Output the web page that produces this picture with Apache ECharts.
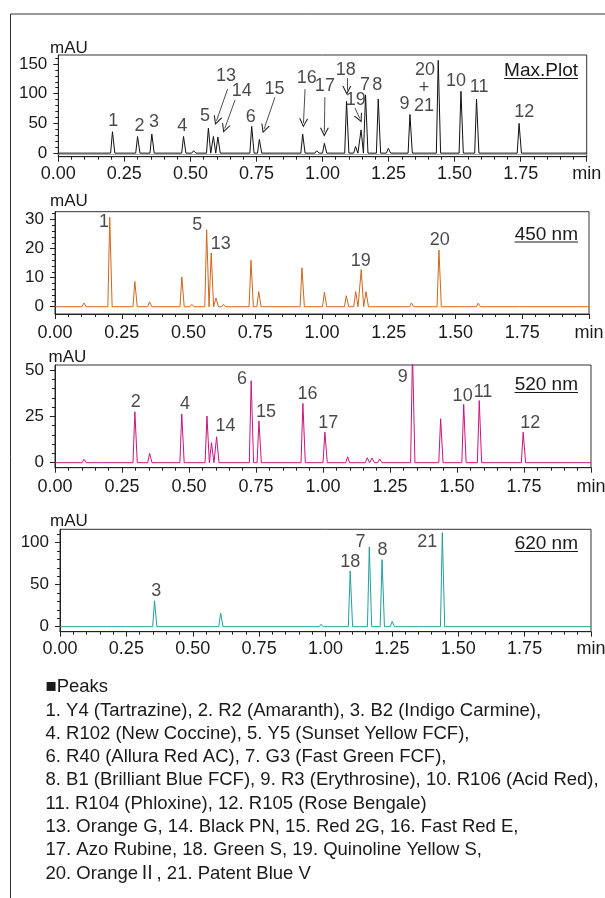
<!DOCTYPE html>
<html><head><meta charset="utf-8">
<script src="https://cdn.jsdelivr.net/npm/echarts@6/dist/echarts.min.js"></script>
<style>html,body{margin:0;padding:0;background:#fff}#c{width:605px;height:898px}</style>
</head><body><div id="c"></div>
<script>
// ---------- data ----------
const xTickLabels = ['0.00','0.25','0.50','0.75','1.00','1.25','1.50','1.75','min'];

// Max.Plot trace: peak apex times (min) and heights (mAU)
const maxTimes   = [0.112,0.150,0.205,0.300,0.354,0.474,0.512,0.568,0.587,0.604,0.630,0.732,0.761,0.925,0.978,1.007,1.091,1.125,1.146,1.163,1.211,1.249,1.295,1.331,1.438,1.524,1.583,1.744];
const maxHeights = [2,1,36,28,32,28,4,42,28,27,2,45,23,32,4,16.5,87,11,39,98,91,8,2,65,156,104,91,50];
const maxLabelText  = ['1','2','3','4','5','13','14','6','15','16','17','18','19','7','8','9','20','+','21','10','11','12'];
const maxLabelTimes = [0.208,0.307,0.362,0.469,0.555,0.635,0.694,0.728,0.818,0.940,1.009,1.088,1.126,1.161,1.207,1.310,1.388,1.384,1.384,1.505,1.593,1.764];
const maxLabelVals  = [54.8,46.4,52,46.4,63.2,129,105,60.4,108,127,112,140,89.7,113.8,113.8,83,140,110,80,122,111,68.8];
// arrows (from label to peak), [time, mAU]
const maxArrowFrom = [[0.641,108],[0.669,89.4],[0.820,94.1],[0.934,107.6],[1.009,94],[1.092,126],[1.123,75.9]];
const maxArrowTo   = [[0.599,54.5],[0.630,41.4],[0.779,40.6],[0.928,50.7],[1.007,35.2],[1.092,105.4],[1.141,58.4]];

// 450 nm
const t450 = [0.108,0.160,0.205,0.299,0.354,0.475,0.512,0.568,0.585,0.603,0.631,0.734,0.763,0.925,1.009,1.091,1.126,1.147,1.165,1.335,1.438,1.525,1.585,1.747];
const h450 = [1.3,0.5,30.8,8.7,1.7,10.2,0.8,26.5,18.5,3,0.8,16,5.2,13.4,5,3.8,5.2,12.8,5.2,1.3,19.5,0.6,1.2,0.5];
const lab450Text  = ['1','5','13','19','20'];
const lab450Times = [0.184,0.533,0.621,1.145,1.441];
const lab450Vals  = [29,28,21.7,15.7,23];

// 520 nm
const t520 = [0.108,0.161,0.298,0.353,0.473,0.567,0.584,0.603,0.732,0.761,0.925,1.007,1.092,1.106,1.165,1.183,1.211,1.334,1.439,1.525,1.583,1.747];
const h520 = [1.8,0.5,27.5,5,26.3,25.2,10.8,14,44.2,22.5,32,16.5,3.2,1,2.7,2.5,2,60,23.7,31.5,33.5,16.5];
const lab520Text  = ['2','4','14','6','15','16','17','9','10','11','12'];
const lab520Times = [0.301,0.485,0.636,0.698,0.787,0.942,1.020,1.298,1.521,1.597,1.773];
const lab520Vals  = [32.9,31.7,19.8,45,27.5,37,21.6,46.4,36,38.3,21.2];

// 620 nm
const t620 = [0.112,0.167,0.254,0.356,0.605,0.983,1.093,1.165,1.213,1.251,1.296,1.360,1.440];
const h620 = [2,0.8,0.8,30.8,16.2,2.8,66.4,94.9,79.8,6.3,1.6,1.2,112];
const lab620Text  = ['3','18','7','8','21'];
const lab620Times = [0.363,1.093,1.132,1.215,1.383];
const lab620Vals  = [42.7,77,100.8,91,100.8];

// y-axis tick labels
const yTicks1 = [0,50,100,150];
const yTicks2 = [0,10,20,30];
const yTicks3 = [0,25,50];
const yTicks4 = [0,50,100];

const peakListLines = [
  '■Peaks',
  '1. Y4 (Tartrazine), 2. R2 (Amaranth), 3. B2 (Indigo Carmine),',
  '4. R102 (New Coccine), 5. Y5 (Sunset Yellow FCF),',
  '6. R40 (Allura Red AC), 7. G3 (Fast Green FCF),',
  '8. B1 (Brilliant Blue FCF), 9. R3 (Erythrosine), 10. R106 (Acid Red),',
  '11. R104 (Phloxine), 12. R105 (Rose Bengale)',
  '13. Orange G, 14. Black PN, 15. Red 2G, 16. Fast Red E,',
  '17. Azo Rubine, 18. Green S, 19. Quinoline Yellow S,',
  '20. OrangeⅡ, 21. Patent Blue V'
];

// ---------- building ----------
const FONT = '"Liberation Sans", Arial, Helvetica, sans-serif';
const TXT = '#1a1a1a';

function trace(times, heights) {
  const pts = [[0, 0]];
  times.forEach((t, i) => { pts.push([t - 0.007, 0], [t, heights[i]], [t + 0.009, 0]); });
  pts.push([2, 0]);
  pts.sort((a, b) => a[0] - b[0]);
  return pts;
}
function labels(text, times, vals) {
  return text.map((s, i) => [times[i], vals[i], s]);
}
function range(a, b, s) { const r = []; for (let v = a; v <= b + 1e-9; v += s) r.push(+v.toFixed(6)); return r; }

const panels = [
  {grid:{left:58.3, top:55, width:528.4, height:101.7}, min:-6, max:165, ticks:yTicks1, minor:range(0,160,10), xm:8,
   color:'#111', data:trace(maxTimes,maxHeights), lab:labels(maxLabelText,maxLabelTimes,maxLabelVals)},
  {grid:{left:55, top:211.7, width:534, height:102.3}, min:-2.5, max:32.7, ticks:yTicks2, minor:range(0,32,2), xm:10,
   color:'#d0671c', data:trace(t450,h450), lab:labels(lab450Text,lab450Times,lab450Vals)},
  {grid:{left:55, top:365, width:536, height:102.7}, min:-2.7, max:52.7, ticks:yTicks3, minor:range(0,50,5), xm:10,
   color:'#c8157f', data:trace(t520,h520), lab:labels(lab520Text,lab520Times,lab520Vals)},
  {grid:{left:60, top:529.3, width:531, height:102.4}, min:-6, max:116, ticks:yTicks4, minor:range(0,110,10), xm:8,
   color:'#22a09c', data:trace(t620,h620), lab:labels(lab620Text,lab620Times,lab620Vals)}
];

const grids = [], xAxes = [], yAxes = [], series = [];
const axisCol = '#222';
panels.forEach((p, i) => {
  grids.push(Object.assign({show:true, borderColor:'#333', borderWidth:1, backgroundColor:'transparent', containLabel:false, outerBoundsMode:'none'}, p.grid));
  xAxes.push({type:'value', gridIndex:i, min:0, max:2, interval:0.25,
    axisLine:{show:true, onZero:false, lineStyle:{color:axisCol, width:1}},
    axisTick:{show:true, length:5, lineStyle:{color:axisCol}},
    minorTick:{show:true, splitNumber:5, length:3, lineStyle:{color:axisCol}},
    splitLine:{show:false}, minorSplitLine:{show:false},
    axisLabel:{show:true, showMinLabel:true, showMaxLabel:true, margin:p.xm, fontSize:18, color:TXT, fontFamily:FONT,
      formatter:(v) => xTickLabels[Math.round(v / 0.25)]}});
  yAxes.push({type:'value', gridIndex:i, min:p.min, max:p.max, position:'left',
    axisLine:{show:true, onZero:false, lineStyle:{color:axisCol, width:1}},
    axisTick:{show:true, length:5, customValues:p.ticks, lineStyle:{color:axisCol}},
    axisLabel:{show:true, customValues:p.ticks, margin:11, fontSize:17, color:TXT, fontFamily:FONT},
    splitLine:{show:false}});
  yAxes.push({type:'value', gridIndex:i, min:p.min, max:p.max, position:'left',
    axisLine:{show:false},
    axisTick:{show:true, length:3, customValues:p.minor, lineStyle:{color:axisCol}},
    axisLabel:{show:false}, splitLine:{show:false}});
  const line = {type:'line', xAxisIndex:i, yAxisIndex:2*i, data:p.data, showSymbol:false, symbol:'none',
    lineStyle:{color:p.color, width:1}, silent:true, animation:false, clip:true};
  if (i === 0) {
    line.markLine = {silent:true, symbol:'none', animation:false, label:{show:false},
      lineStyle:{color:'#aaa', width:1, type:'solid'}, data:[{yAxis:-2.5}]};
  }
  series.push(line);
  const lab = {type:'scatter', xAxisIndex:i, yAxisIndex:2*i, data:p.lab, symbolSize:0, silent:true, animation:false,
    label:{show:true, position:'inside', formatter:(d) => d.value[2], fontSize:18, color:TXT, fontFamily:FONT}};
  if (i === 0) {
    lab.markLine = {silent:true, animation:false, symbol:['none','path://M5,0 L10,10 L8.7,10 L5,2.6 L1.3,10 L0,10 Z'],
      symbolSize:9, label:{show:false}, lineStyle:{color:'#222', width:0.8, type:'solid'},
      itemStyle:{color:'#222'},
      data: maxArrowFrom.map((f, k) => [{coord:f}, {coord:maxArrowTo[k]}])};
  }
  series.push(lab);
});

const titles = [
  {text:'Max.Plot', y:70.7, ul:78.5},
  {text:'450 nm', y:234.5, ul:242},
  {text:'520 nm', y:385, ul:392.5},
  {text:'620 nm', y:544, ul:551.5}
];
const mauPos = [[69,48],[69,201],[67.5,357],[69,521]];
const graphic = [
  {type:'rect', shape:{x:10.5, y:14, width:700, height:1000}, style:{fill:'none', stroke:'#333', lineWidth:1}, silent:true}
];
mauPos.forEach(m => graphic.push({type:'text', x:m[0], y:m[1], silent:true,
  style:{text:'mAU', fontSize:17, fontFamily:FONT, fill:TXT, align:'center', verticalAlign:'middle'}}));
titles.forEach(t => {
  graphic.push({type:'text', x:578, y:t.y, silent:true,
    style:{text:t.text, fontSize:19, fontFamily:FONT, fill:TXT, align:'right', verticalAlign:'middle'}});
});
graphic.push({type:'text', x:45.5, y:675.5, silent:true,
  style:{text:peakListLines.join('\n'), fontSize:18.5, lineHeight:23.3, fontFamily:FONT + ', "Noto Sans CJK JP"', fill:TXT, align:'left', verticalAlign:'top'}});

const chart = echarts.init(document.getElementById('c'), null, {renderer:'canvas', width:605, height:898});
chart.setOption({animation:false, backgroundColor:'#fff', textStyle:{fontFamily:FONT},
  grid:grids, xAxis:xAxes, yAxis:yAxes, series:series, graphic:graphic});

// underlines sized to the rendered titles
const extra = [];
titles.forEach(t => {
  const w = echarts.format.getTextRect ? echarts.format.getTextRect(t.text, '19px ' + FONT).width : 70;
  extra.push({type:'line', shape:{x1:578 - w, y1:t.ul, x2:578, y2:t.ul}, style:{stroke:TXT, lineWidth:1}, silent:true});
});
chart.setOption({graphic: graphic.concat(extra)});
</script></body></html>
